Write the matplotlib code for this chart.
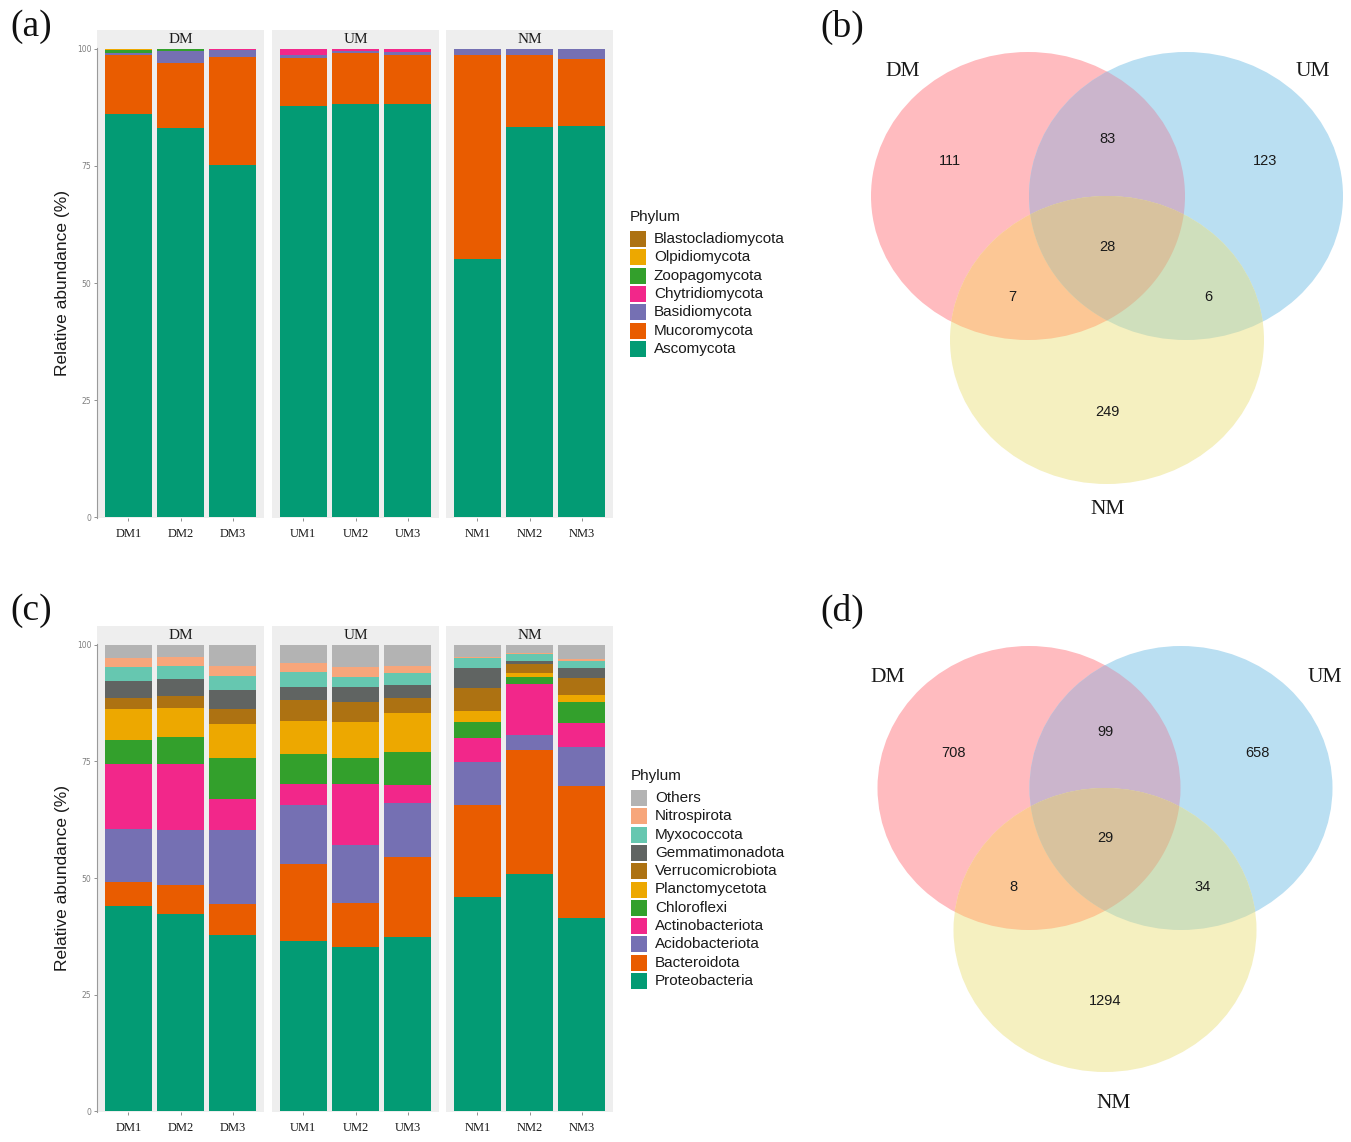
import numpy as np
import matplotlib.pyplot as plt
from matplotlib.patches import Ellipse, Polygon, Rectangle

W, H = 1351, 1142
SERIF = 'Liberation Serif'
SANS = 'Liberation Sans'

samples = ['DM1', 'DM2', 'DM3', 'UM1', 'UM2', 'UM3', 'NM1', 'NM2', 'NM3']
groups = ['DM', 'UM', 'NM']

# (a) fungi, relative abundance (%), stacked bottom -> top
fungi_phyla = ['Ascomycota', 'Mucoromycota', 'Basidiomycota', 'Chytridiomycota',
               'Zoopagomycota', 'Olpidiomycota', 'Blastocladiomycota']
ascomycota = [86.0, 83.2, 75.3, 87.8, 88.3, 88.2, 55.1, 83.3, 83.6]
mucoromycota = [12.7, 13.9, 22.9, 10.3, 10.8, 10.5, 43.6, 15.4, 14.3]
basidiomycota = [0.5, 2.5, 1.6, 0.6, 0.5, 0.7, 1.3, 1.3, 2.1]
chytridiomycota = [0.0, 0.0, 0.2, 1.3, 0.4, 0.6, 0.0, 0.0, 0.0]
zoopagomycota = [0.5, 0.3, 0.0, 0.0, 0.0, 0.0, 0.0, 0.0, 0.0]
olpidiomycota = [0.2, 0.1, 0.0, 0.0, 0.0, 0.0, 0.0, 0.0, 0.0]
blastocladiomycota = [0.1, 0.0, 0.0, 0.0, 0.0, 0.0, 0.0, 0.0, 0.0]

# (c) bacteria, relative abundance (%), stacked bottom -> top
bact_phyla = ['Proteobacteria', 'Bacteroidota', 'Acidobacteriota', 'Actinobacteriota',
              'Chloroflexi', 'Planctomycetota', 'Verrucomicrobiota', 'Gemmatimonadota',
              'Myxococcota', 'Nitrospirota', 'Others']
proteobacteria = [44.0, 42.3, 37.7, 36.5, 35.2, 37.4, 45.9, 50.8, 41.5]
bacteroidota = [5.2, 6.2, 6.7, 16.6, 9.4, 17.1, 19.7, 26.6, 28.3]
acidobacteriota = [11.4, 11.9, 15.9, 12.6, 12.5, 11.5, 9.3, 3.2, 8.3]
actinobacteriota = [13.9, 14.0, 6.6, 4.5, 13.0, 3.9, 5.2, 11.0, 5.2]
chloroflexi = [5.2, 5.9, 8.8, 6.4, 5.7, 7.2, 3.4, 1.6, 4.5]
planctomycetota = [6.5, 6.2, 7.4, 7.1, 7.7, 8.2, 2.3, 0.7, 1.5]
verrucomicrobiota = [2.4, 2.5, 3.2, 4.4, 4.2, 3.3, 4.9, 2.0, 3.6]
gemmatimonadota = [3.6, 3.6, 4.0, 2.8, 3.3, 2.9, 4.4, 0.7, 2.2]
myxococcota = [3.0, 2.8, 3.0, 3.2, 2.2, 2.5, 2.0, 1.4, 1.5]
nitrospirota = [2.1, 2.1, 2.1, 2.1, 2.1, 1.4, 0.4, 0.3, 0.3]
others = [2.7, 2.5, 4.6, 3.8, 4.7, 4.6, 2.5, 1.7, 3.1]

fungi_colors = ['#039B74', '#E95C00', '#7570B3', '#F2278A', '#33A02C', '#EDA800', '#AD7212']
bact_colors = ['#039B74', '#E95C00', '#7570B3', '#F2278A', '#33A02C', '#EDA800', '#AD7212',
               '#606462', '#66C7B0', '#F7A67B', '#B3B3B3']

# Venn counts: DM only, DM&UM, UM only, all, DM&NM, UM&NM, NM only
venn_fungi = [111, 83, 123, 28, 7, 6, 249]
venn_bact = [708, 99, 658, 29, 8, 34, 1294]
venn_sets = ['DM', 'UM', 'NM']

fig = plt.figure(figsize=(W / 100, H / 100), dpi=100)
ov = fig.add_axes([0, 0, 1, 1])
ov.set_xlim(0, W)
ov.set_ylim(H, 0)
ov.axis('off')


def px_axes(x0, y0, x1, y1):
    return fig.add_axes([x0 / W, 1 - y1 / H, (x1 - x0) / W, (y1 - y0) / H])


facet_x = [(97, 264), (272, 439), (446, 613)]


def stacked_panel(series, colors, y_top, y_bot, strip_h=18):
    for g, (x0, x1) in enumerate(facet_x):
        ax = px_axes(x0, y_top, x1, y_bot)
        ax.set_facecolor('#EEEEEE')
        idx = list(range(g * 3, g * 3 + 3))
        pos = np.arange(1, 4)
        bottom = np.zeros(3)
        for vals, col in zip(series, colors):
            v = np.array([vals[i] for i in idx])
            ax.bar(pos, v, width=0.9, bottom=bottom, color=col, linewidth=0)
            bottom += v
        ax.set_xlim(0.4, 3.6)
        ax.set_ylim(-0.2, 100.2)
        ax.set_xticks(pos)
        ax.set_xticklabels([samples[i] for i in idx], fontfamily=SERIF, fontsize=9, color='#1A1A1A')
        ax.set_yticks([0, 25, 50, 75, 100])
        for s in ['top', 'right', 'bottom']:
            ax.spines[s].set_visible(False)
        ax.tick_params(axis='x', length=2.5, width=0.6, color='#7F7F7F', pad=4.5)
        if g == 0:
            ax.spines['left'].set_color('#9A9A9A')
            ax.spines['left'].set_linewidth(0.8)
            ax.tick_params(axis='y', length=2.5, width=0.6, color='#7F7F7F',
                           labelsize=5.5, labelcolor='#7F7F7F', pad=1.5)
        else:
            ax.spines['left'].set_visible(False)
            ax.tick_params(axis='y', left=False, labelleft=False)
        ov.add_patch(Rectangle((x0, y_top - strip_h), x1 - x0, strip_h,
                               facecolor='#EEEEEE', edgecolor='none'))
        ov.text((x0 + x1) / 2, y_top - strip_h / 2 + 0.5, groups[g], ha='center', va='center',
                fontfamily=SERIF, fontsize=11, color='#1A1A1A')
    ov.text(63, (y_top + y_bot) / 2, 'Relative abundance (%)', rotation=90,
            ha='center', va='center', fontfamily=SANS, fontsize=12.5, color='#1A1A1A')


def legend(title, labels, colors, x, y_title, y_first, step=18.3):
    ov.text(x, y_title, title, ha='left', va='center', fontfamily=SANS, fontsize=11, color='#1A1A1A')
    for k, (lab, col) in enumerate(zip(labels, colors)):
        yy = y_first + k * step
        ov.add_patch(Rectangle((x, yy - 8), 16, 16, facecolor=col, edgecolor='none'))
        ov.text(x + 24, yy, lab, ha='left', va='center', fontfamily=SANS, fontsize=11, color='#1A1A1A')


fungi_series = [ascomycota, mucoromycota, basidiomycota, chytridiomycota,
                zoopagomycota, olpidiomycota, blastocladiomycota]
bact_series = [proteobacteria, bacteroidota, acidobacteriota, actinobacteriota, chloroflexi,
               planctomycetota, verrucomicrobiota, gemmatimonadota, myxococcota, nitrospirota, others]

stacked_panel(fungi_series, fungi_colors, 48, 518)
stacked_panel(bact_series, bact_colors, 644, 1112)
legend('Phylum', fungi_phyla[::-1], fungi_colors[::-1], 630, 217, 239)
legend('Phylum', bact_phyla[::-1], bact_colors[::-1], 631, 776, 798)


# ---- Venn diagrams ----
REG = {'D': '#FFBBBF', 'U': '#BADFF2', 'N': '#F5F0C0',
       'DU': '#CBB5CC', 'DN': '#FCC795', 'UN': '#CFDFBC', 'DUN': '#D8C29E'}


def ell_pts(c, w, h, n=900):
    t = np.linspace(0, 2 * np.pi, n, endpoint=False)
    return np.column_stack([c[0] + w / 2 * np.cos(t), c[1] + h / 2 * np.sin(t)])


def inside(p, c, w, h):
    return ((p[:, 0] - c[0]) / (w / 2)) ** 2 + ((p[:, 1] - c[1]) / (h / 2)) ** 2 <= 1


def venn(cD, cU, cN, w, h, counts, label_xy):
    def E(c, col):
        return Ellipse(c, w, h, facecolor=col, edgecolor='none', transform=ov.transData)

    for c, k in [(cD, 'D'), (cU, 'U'), (cN, 'N')]:
        ov.add_patch(E(c, REG[k]))
    for a, b, k in [(cD, cU, 'DU'), (cD, cN, 'DN'), (cU, cN, 'UN')]:
        p = E(a, REG[k])
        ov.add_patch(p)
        p.set_clip_path(E(b, 'none'))
    # triple overlap: lens of DM & UM, clipped to NM
    pD, pU = ell_pts(cD, w, h), ell_pts(cU, w, h)
    lens = np.vstack([pD[inside(pD, cU, w, h)], pU[inside(pU, cD, w, h)]])
    m = lens.mean(axis=0)
    lens = lens[np.argsort(np.arctan2(lens[:, 1] - m[1], lens[:, 0] - m[0]))]
    tri = Polygon(lens, closed=True, facecolor=REG['DUN'], edgecolor='none')
    ov.add_patch(tri)
    tri.set_clip_path(E(cN, 'none'))

    mx, my = (cD[0] + cU[0]) / 2, cD[1]
    offs = [(-0.5, -0.122), (0.0, -0.198), (0.503, -0.122), (0.0, 0.177),
            (-0.303, 0.35), (0.323, 0.35), (0.0, 0.75)]
    for n, (fx, fy) in zip(counts, offs):
        ov.text(mx + fx * w, my + fy * h, str(n), ha='center', va='center',
                fontfamily=SANS, fontsize=10.5, color='#1A1A1A')
    for name, (lx, ly) in zip(venn_sets, label_xy):
        ov.text(lx, ly, name, ha='center', va='center', fontfamily=SERIF, fontsize=15.5, color='#1A1A1A')


venn((1028, 196), (1186, 196), (1107, 340), 314, 288, venn_fungi,
     [(903, 71), (1313, 71), (1108, 510)])
venn((1029, 788), (1181, 788), (1105, 930), 303, 284, venn_bact,
     [(888, 677), (1325, 677), (1114, 1104)])

for lab, x, y in [('(a)', 10, 27), ('(b)', 820, 27), ('(c)', 10, 611), ('(d)', 820, 611)]:
    ov.text(x, y, lab, ha='left', va='center', fontfamily=SERIF, fontsize=27, color='#111111')

fig.savefig('out.png', dpi=100)
